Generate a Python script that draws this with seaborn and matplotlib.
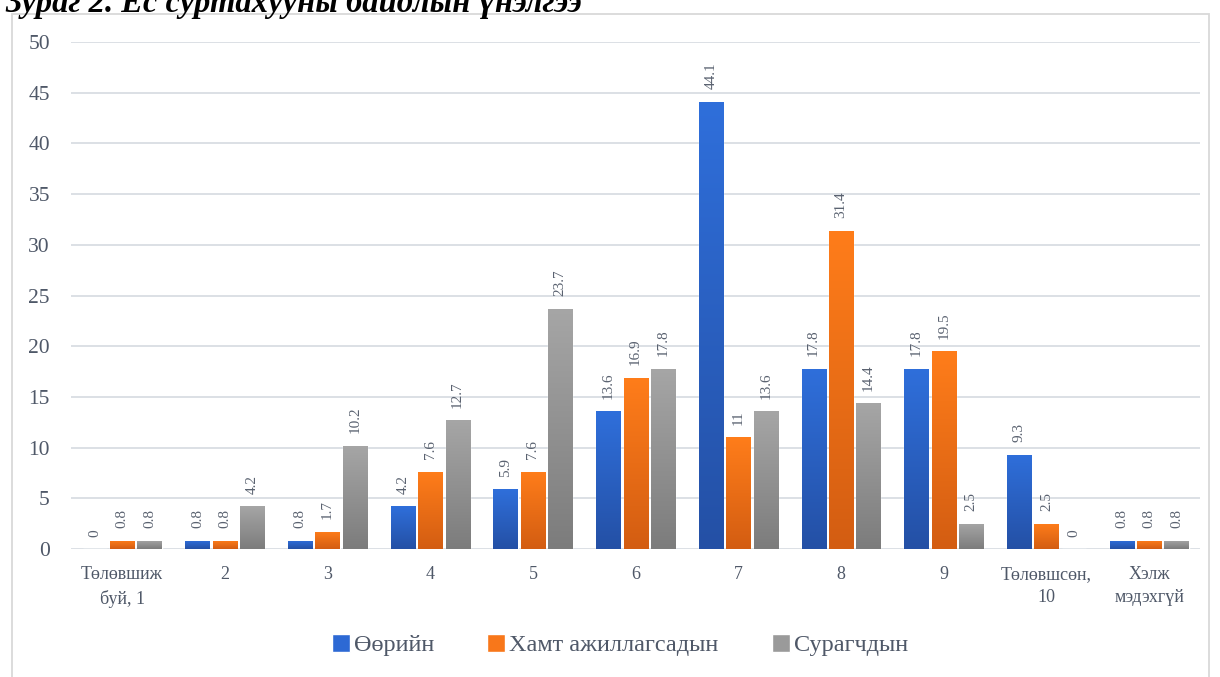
import numpy as np
import pandas as pd
import matplotlib
matplotlib.use("Agg")
import matplotlib.pyplot as plt
import seaborn as sns
from matplotlib.colors import LinearSegmentedColormap
from matplotlib.patches import Rectangle

categories = ["Төлөвшиж\nбуй, 1", "2", "3", "4", "5", "6", "7", "8", "9",
              "Төлөвшсөн,\n10", "Хэлж\nмэдэхгүй"]
series_names = ["Өөрийн", "Хамт ажиллагсадын", "Сурагчдын"]
own = [0, 0.8, 0.8, 4.2, 5.9, 13.6, 44.1, 17.8, 17.8, 9.3, 0.8]
colleagues = [0.8, 0.8, 1.7, 7.6, 7.6, 16.9, 11, 31.4, 19.5, 2.5, 0.8]
students = [0.8, 4.2, 10.2, 12.7, 23.7, 17.8, 13.6, 14.4, 2.5, 0, 0.8]
yticks = [0, 5, 10, 15, 20, 25, 30, 35, 40, 45, 50]
title = "Зураг 2. Ёс суртахууны байдлын үнэлгээ"

colors = ["#2d69d4", "#f8771a", "#9a9a9a"]
grad_top = ["#2f6fdb", "#ff7d1a", "#a6a6a6"]
grad_bot = ["#2450a5", "#d35d12", "#7c7c7c"]
text_color = "#4f5868"

df = pd.DataFrame({
    "cat": categories * 3,
    "val": own + colleagues + students,
    "series": sum([[s] * len(categories) for s in series_names], []),
})

sns.set_theme(style="white")
plt.rcParams["font.family"] = ["Liberation Serif", "DejaVu Serif"]

fig = plt.figure(figsize=(12.2, 6.77), dpi=100)
ax = fig.add_axes([0.058, 0.189, 0.926, 0.749])

sns.barplot(data=df, x="cat", y="val", hue="series", palette=colors,
            gap=0.12, width=0.8, ax=ax, legend=True, saturation=1)

# gradient fill
for i, cont in enumerate(ax.containers):
    cmap = LinearSegmentedColormap.from_list("g", [grad_bot[i], grad_top[i]])
    grad = np.linspace(0, 1, 256).reshape(-1, 1)
    for p in cont.patches:
        x0, y0 = p.get_x(), p.get_y()
        w, h = p.get_width(), p.get_height()
        if h <= 0:
            continue
        im = ax.imshow(grad, cmap=cmap, origin="lower", aspect="auto",
                       extent=[x0, x0 + w, y0, y0 + h], zorder=p.get_zorder() + 0.1)
        im.set_clip_path(p)
    labels = [f"{v:g}" for v in cont.datavalues]
    ax.bar_label(cont, labels=labels, rotation=90, padding=9,
                 fontsize=11, color="#5a6270")

ax.set_xlim(-0.5, len(categories) - 0.5)
ax.set_ylim(0, 50)
ax.set_yticks(yticks)
ax.set_yticklabels([str(t) for t in yticks], fontsize=15.5, color=text_color)
ax.set_xticks(range(len(categories)))
ax.set_xticklabels(categories, fontsize=13, color=text_color, linespacing=1.5)
ax.tick_params(axis="x", length=0, pad=12)
ax.tick_params(axis="y", length=0, pad=15)
ax.set_xlabel("")
ax.set_ylabel("")
ax.grid(axis="y", color="#d9dde3", linewidth=1.3)
ax.set_axisbelow(True)
for s in ax.spines.values():
    s.set_visible(False)

handles, lbls = ax.get_legend_handles_labels()
ax.legend_.remove()
fig.legend(handles, lbls, loc="center", bbox_to_anchor=(0.508, 0.047), ncol=3,
           frameon=False, fontsize=17.5, labelcolor=text_color,
           handlelength=0.75, handleheight=0.75, handletextpad=0.15,
           columnspacing=2.2)

# chart frame
fig.patches.append(Rectangle((0.0098, -0.01), 0.981, 0.99, transform=fig.transFigure,
                             fill=False, edgecolor="#d9d9d9", linewidth=1.3))

fig.text(0.004, 0.982, title, fontsize=23.5, fontweight="bold", fontstyle="italic",
         color="black", ha="left", va="baseline")

fig.savefig("out.png", dpi=100)
